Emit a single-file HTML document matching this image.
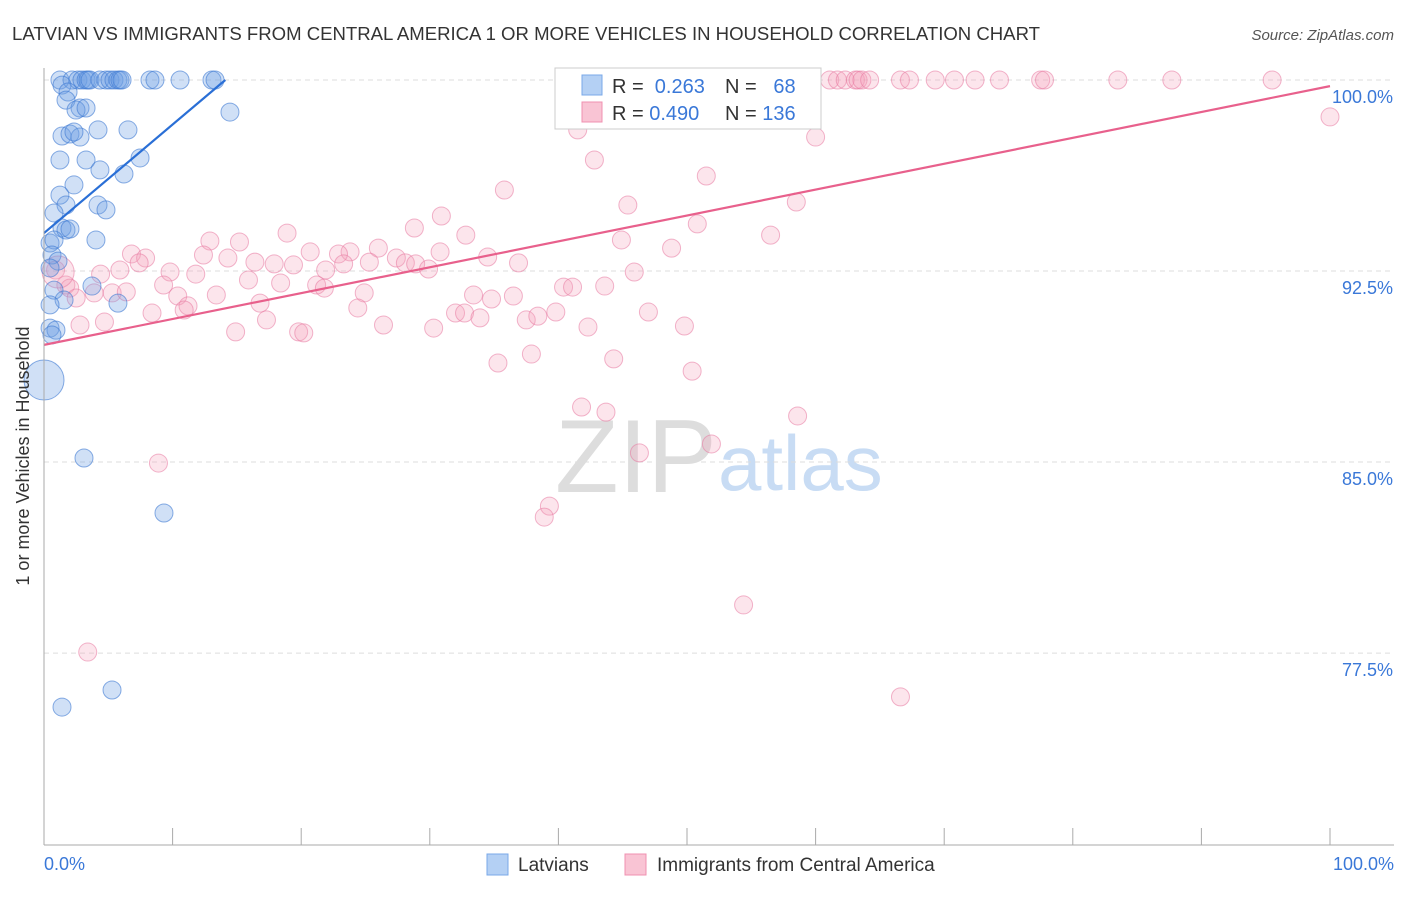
<!DOCTYPE html>
<html><head><meta charset="utf-8"><style>
body{margin:0;background:#fff;font-family:"Liberation Sans",sans-serif;}
svg text{font-family:"Liberation Sans",sans-serif;}
</style></head><body>
<svg id="c" width="1406" height="892">
<text x="12" y="40" font-size="18" fill="#333" textLength="1028" lengthAdjust="spacingAndGlyphs">LATVIAN VS IMMIGRANTS FROM CENTRAL AMERICA 1 OR MORE VEHICLES IN HOUSEHOLD CORRELATION CHART</text>
<text x="1394" y="40" font-size="15" fill="#555" text-anchor="end" font-style="italic">Source: ZipAtlas.com</text>
<text x="555" y="492" font-size="104" fill="#ddd" font-family="Liberation Serif">ZIP</text>
<text x="718" y="490" font-size="78" fill="#c8dcf4">atlas</text>
<g id="grid"></g>
<g id="pts"></g>
<g id="lines"></g>
<line x1="44" y1="68" x2="44" y2="845" stroke="#aaa"/>
<line x1="44" y1="845" x2="1394" y2="845" stroke="#aaa"/>
<text x="29" y="456" font-size="18" fill="#333" text-anchor="middle" transform="rotate(-90 29 456)">1 or more Vehicles in Household</text>
<text x="44" y="870" font-size="18" fill="#3a78d8">0.0%</text>
<text x="1394" y="870" font-size="18" fill="#3a78d8" text-anchor="end">100.0%</text>
<g>
<rect x="555" y="68" width="266" height="61" fill="#fff" stroke="#ccc"/>
<rect x="582" y="75" width="20" height="20" fill="#b4d0f4" stroke="#7aa8e8"/>
<rect x="582" y="102" width="20" height="20" fill="#f9c4d4" stroke="#f090b0"/>
<text x="612" y="93" font-size="20" fill="#333">R = <tspan fill="#3a78d8">&#160;0.263</tspan></text>
<text x="725" y="93" font-size="20" fill="#333">N = <tspan fill="#3a78d8">&#160;&#160;68</tspan></text>
<text x="612" y="120" font-size="20" fill="#333">R = <tspan fill="#3a78d8">0.490</tspan></text>
<text x="725" y="120" font-size="20" fill="#333">N = <tspan fill="#3a78d8">136</tspan></text>
</g>
<g>
<rect x="487" y="854" width="21" height="21" fill="#b4d0f4" stroke="#7aa8e8"/>
<text x="518" y="871" font-size="19" fill="#333">Latvians</text>
<rect x="625" y="854" width="21" height="21" fill="#f9c4d4" stroke="#f090b0"/>
<text x="657" y="871" font-size="19" fill="#333">Immigrants from Central America</text>
</g>
</svg>
<script>
const yTicks=[100,92.5,85,77.5];
const yTickLabels=["100.0%","92.5%","85.0%","77.5%"];
const xTicks=[0,10,20,30,40,50,60,70,80,90,100];
const blueX=[1.24,2.18,2.64,2.95,3.27,3.42,3.58,4.35,4.82,5.13,5.44,5.75,5.91,6.07,8.24,8.63,10.58,13.06,13.3,1.4,1.87,1.71,2.8,2.49,3.27,1.4,2.02,2.8,2.33,4.2,6.53,7.47,1.24,3.27,6.22,4.35,2.33,1.24,1.71,4.2,4.82,0.78,1.4,1.71,2.02,4.04,0.47,0.78,0.62,1.09,0.47,0.78,3.73,5.75,1.56,0.47,0.47,0.93,0.62,3.11,9.33,5.29,1.4,14.46,0.0];
const blueY=[100,100,100,100,100,100,100,100,100,100,100,100,100,100,100,100,100,100,100,99.8,99.53,99.21,98.9,98.82,98.9,97.8,97.88,97.76,97.96,98.04,98.04,96.94,96.86,96.86,96.31,96.47,95.88,95.48,95.09,95.09,94.9,94.78,94.19,94.11,94.15,93.72,93.6,93.72,93.13,92.89,92.62,91.75,91.91,91.24,91.36,91.17,90.26,90.18,89.99,85.16,83.0,76.05,75.38,98.74,88.22];
const pinkX=[47.9,51.0,53.3,54.5,55.7,58.8,59.6,61.1,61.7,62.3,63.1,63.3,63.6,64.2,66.6,67.3,69.3,70.8,72.4,74.3,77.5,77.8,83.5,87.7,95.5,100,41.5,60.0,42.8,51.5,35.8,45.4,58.5,30.9,28.8,50.8,18.9,32.8,44.9,56.5,12.9,15.2,48.8,6.8,7.9,12.4,14.3,16.4,23.8,26.0,22.9,20.7,30.8,34.5,27.4,28.1,23.3,25.3,17.9,19.4,21.9,28.9,29.9,7.4,0.9,4.4,5.9,9.8,11.8,15.9,18.4,21.2,21.8,24.9,45.9,36.9,40.4,41.1,43.6,33.4,34.8,36.5,1.7,2.0,3.9,2.5,5.3,6.4,9.3,10.4,13.4,16.8,11.2,10.9,8.4,24.4,32.0,32.7,33.9,37.5,38.4,39.8,47.0,4.7,2.8,14.9,19.8,20.2,17.3,26.4,30.3,42.3,49.8,35.3,37.9,44.3,50.4,41.8,43.7,58.6,51.9,46.3,8.9,39.3,38.9,54.4,3.4,66.6,1.1];
const pinkY=[100,100,100,100,100,100,100,100,100,100,100,100,100,100,100,100,100,100,100,100,100,100,100,100,100,98.55,98.04,97.76,96.86,96.23,95.68,95.09,95.21,94.66,94.19,94.35,93.99,93.91,93.72,93.91,93.68,93.64,93.4,93.17,93.01,93.13,93.01,92.85,93.25,93.4,93.17,93.25,93.25,93.05,93.01,92.82,92.78,92.85,92.78,92.74,92.54,92.78,92.58,92.82,92.54,92.38,92.54,92.46,92.38,92.15,92.03,91.95,91.83,91.64,92.46,92.82,91.87,91.87,91.91,91.56,91.4,91.52,91.95,91.83,91.64,91.44,91.64,91.68,91.95,91.52,91.56,91.24,91.13,90.97,90.85,91.05,90.85,90.85,90.66,90.58,90.73,90.89,90.89,90.5,90.38,90.11,90.11,90.07,90.58,90.38,90.26,90.3,90.34,88.89,89.24,89.05,88.57,87.16,86.96,86.81,85.71,85.36,84.96,83.27,82.84,79.39,77.54,75.78,92.46];
const blueTrendX=[0,14.1];
const blueTrendY=[93.99,100];
const pinkTrendX=[0,100];
const pinkTrendY=[89.6,99.76];
const NS="http://www.w3.org/2000/svg";
const sx=v=>44+v*12.86;
const sy=v=>80+(100-v)*25.47;
function mk(tag,attrs,parent){const e=document.createElementNS(NS,tag);for(const k in attrs)e.setAttribute(k,attrs[k]);parent.appendChild(e);return e;}
const grid=document.getElementById('grid');
yTicks.forEach((t,i)=>{
  const l=mk('line',{x1:44,x2:1394,y1:sy(t),y2:sy(t),stroke:'#ddd','stroke-dasharray':'5,4'},grid);
  
  
  const tx=mk('text',{x:1393,y:sy(t)+23,'font-size':18,fill:'#3a78d8','text-anchor':'end'},grid);
  tx.textContent=yTickLabels[i];
  
  
});
xTicks.forEach(t=>{
  const l=mk('line',{x1:sx(t),x2:sx(t),y1:828,y2:845,stroke:'#aaa'},grid);
  
  
});
const pts=document.getElementById('pts');
pinkX.forEach((x,i)=>{
  const r=i===pinkX.length-1?16:9;
  const c=mk('circle',{cx:sx(x),cy:sy(pinkY[i]),r:r,fill:'rgba(244,160,188,0.28)',stroke:'rgba(232,120,160,0.55)','stroke-width':1},pts);
  
  
});
blueX.forEach((x,i)=>{
  const r=i===blueX.length-1?20:9;
  const c=mk('circle',{cx:sx(x),cy:sy(blueY[i]),r:r,fill:'rgba(110,160,228,0.32)',stroke:'rgba(60,120,210,0.6)','stroke-width':1},pts);
  
  
});
const lines=document.getElementById('lines');
const bl=mk('line',{x1:sx(blueTrendX[0]),y1:sy(blueTrendY[0]),x2:sx(blueTrendX[1]),y2:sy(blueTrendY[1]),stroke:'#2a6fd6','stroke-width':2.2},lines);


const pl=mk('line',{x1:sx(pinkTrendX[0]),y1:sy(pinkTrendY[0]),x2:sx(pinkTrendX[1]),y2:sy(pinkTrendY[1]),stroke:'#e8608c','stroke-width':2.2},lines);


</script>
</body></html>
